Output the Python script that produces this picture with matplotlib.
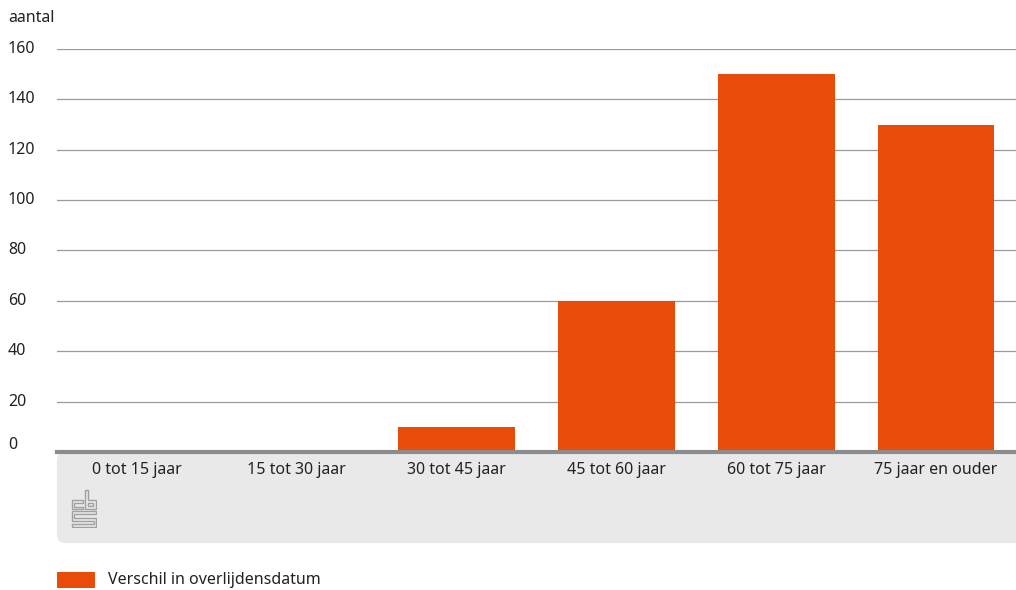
import matplotlib.pyplot as plt
import matplotlib.transforms as mtransforms
from matplotlib.patches import FancyBboxPatch, Rectangle, Polygon

categories = ["0 tot 15 jaar", "15 tot 30 jaar", "30 tot 45 jaar",
              "45 tot 60 jaar", "60 tot 75 jaar", "75 jaar en ouder"]
values = [0, 0, 10, 60, 150, 130]
yticks = [0, 20, 40, 60, 80, 100, 120, 140, 160]
series_name = "Verschil in overlijdensdatum"

orange = "#e94c0a"
txt = "#222222"
W, H = 1016, 590
plt.rcParams['font.family'] = ['Noto Sans', 'DejaVu Sans']

fig = plt.figure(figsize=(W / 100, H / 100), dpi=100)

left, right = 57 / W, 1.0
y0, y160 = 452, 49
ax = fig.add_axes([left, 1 - y0 / H, right - left, (y0 - y160) / H])

# grey panel beneath the axis
panel = FancyBboxPatch((left + 4 / W, 1 - 539 / H), right - left, (539 - 456) / H,
                       boxstyle="round,pad=0.004,rounding_size=0.008",
                       transform=fig.transFigure, facecolor="#e9e9e9",
                       edgecolor="none", zorder=-5, mutation_aspect=W / H)
fig.patches.append(panel)

x = range(len(categories))
ax.bar(x, values, width=0.73, color=orange, zorder=3)
ax.set_xlim(-0.5, len(categories) - 0.5)
ax.set_ylim(0, 160)
ax.set_yticks(yticks)
ax.set_yticklabels([])
ax.yaxis.grid(True, color="#9a9a9a", linewidth=0.9)
ax.set_axisbelow(True)
ax.patch.set_alpha(0)
for s in ["top", "right", "left"]:
    ax.spines[s].set_visible(False)
ax.spines["bottom"].set_color("#8c8c8c")
ax.spines["bottom"].set_linewidth(3)
ax.spines["bottom"].set_zorder(4)
ax.tick_params(axis="both", length=0, labelsize=11.5, colors=txt)
ax.set_xticks(list(x))
ax.set_xticklabels(categories)
ax.tick_params(axis="x", pad=7)

# y labels, left aligned at the figure edge
trans = mtransforms.blended_transform_factory(fig.transFigure, ax.transData)
for v in yticks:
    off = mtransforms.ScaledTranslation(0, (7 if v == 0 else 0) / 100, fig.dpi_scale_trans)
    fig.text(8 / W, v, str(v), transform=trans + off, fontsize=11.5, color=txt,
             ha="left", va="center")

fig.text(8 / W, 1 - 18 / H, "aantal", fontsize=11.5, color=txt, va="center")

# small cbs logo
lg = fig.add_axes([71 / W, 1 - 528 / H, 26 / W, 39 / H])
lg.set_xlim(-0.3, 13.3)
lg.set_ylim(-0.3, 19.3)
lg.axis("off")
lc = "#a0a0a0"
shapes = [
    [(6, 14), (0, 14), (0, 9), (6, 9), (6, 10.5), (1.5, 10.5), (1.5, 12.5), (6, 12.5)],
    [(7, 19), (8.5, 19), (8.5, 14), (13, 14), (13, 9), (7, 9)],
    [(8.7, 10.6), (11.4, 10.6), (11.4, 12.4), (8.7, 12.4)],
    [(0, 8), (13, 8), (13, 6.5), (1.5, 6.5), (1.5, 4.75), (13, 4.75), (13, 0),
     (0, 0), (0, 1.5), (11.5, 1.5), (11.5, 3.25), (0, 3.25)],
]
for pts in shapes:
    lg.add_patch(Polygon(pts, closed=True, fill=False, edgecolor=lc, linewidth=1.0))

# legend
fig.patches.append(Rectangle((57 / W, 1 - 588 / H), 38 / W, 16 / H,
                             transform=fig.transFigure, facecolor=orange, edgecolor="none"))
fig.text(108 / W, 1 - 580 / H, series_name, fontsize=11.5, color=txt, va="center")

fig.savefig("out.png", dpi=100)
